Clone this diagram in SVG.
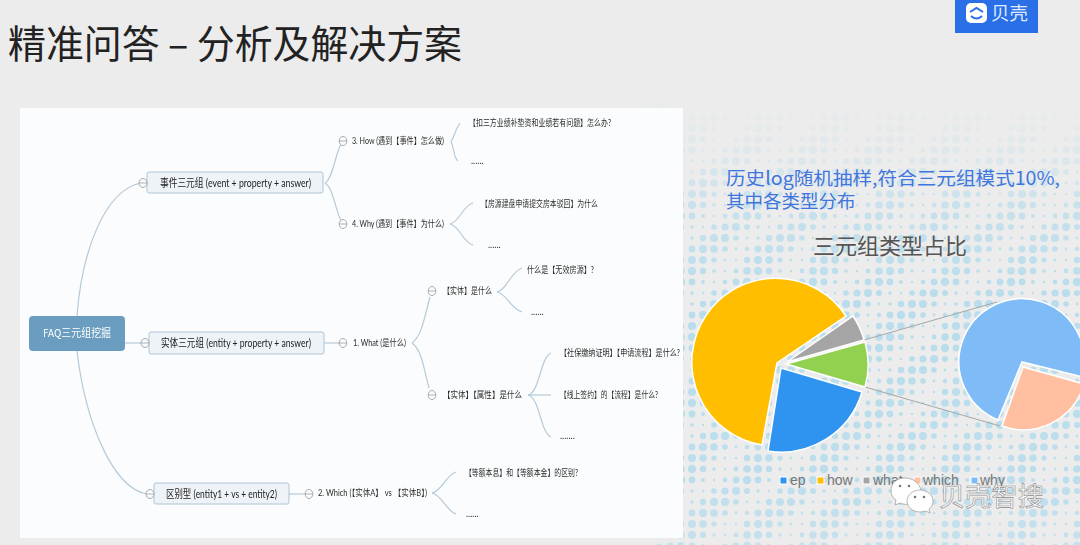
<svg xmlns="http://www.w3.org/2000/svg" width="1080" height="545" viewBox="0 0 1080 545">
<style>
text{font-family:"Noto Sans CJK SC","Noto Sans",sans-serif}
.t{font-family:"Lato","Noto Sans CJK SC",sans-serif;font-size:9px;fill:#2c2c2c}
.n{font-family:"Lato","Noto Sans CJK SC",sans-serif;font-size:11px;fill:#222}
.node{fill:#eef3f8;stroke:#b0c5d6;stroke-width:1}
.c{fill:none;stroke:#b4cad9;stroke-width:1.2}
.m{fill:#fbfcfd;stroke:#a0a0a0;stroke-width:.9}
.mb{stroke:#a0a0a0;stroke-width:.8}
.p{stroke:#fff;stroke-width:1.5}
.lg{font-family:"Liberation Sans",Arial,sans-serif;font-size:14px;fill:#777}
.ls{stroke:#fff;stroke-width:1}
.z{stroke:#a3a8a8;stroke-width:1;fill:none}
</style>
<defs>
<pattern id="dots" width="66" height="66" patternUnits="userSpaceOnUse" x="5" y="2">
<g fill="#b6dcec">
<circle cx="5" cy="5" r="2.4"/><circle cx="16" cy="5" r="3.8"/><circle cx="27" cy="5" r="4.2"/><circle cx="38" cy="5" r="3.2"/><circle cx="49" cy="5" r="1.8"/><circle cx="60" cy="5" r="1.2"/>
<circle cx="5" cy="16" r="3.4"/><circle cx="16" cy="16" r="4.2"/><circle cx="27" cy="16" r="3.4"/><circle cx="38" cy="16" r="2"/><circle cx="49" cy="16" r="1.2"/><circle cx="60" cy="16" r="2.4"/>
<circle cx="5" cy="27" r="4"/><circle cx="16" cy="27" r="3"/><circle cx="27" cy="27" r="1.8"/><circle cx="38" cy="27" r="1.2"/><circle cx="49" cy="27" r="2.8"/><circle cx="60" cy="27" r="3.6"/>
<circle cx="5" cy="38" r="2.8"/><circle cx="16" cy="38" r="1.4"/><circle cx="27" cy="38" r="1.8"/><circle cx="38" cy="38" r="3.2"/><circle cx="49" cy="38" r="4"/><circle cx="60" cy="38" r="4"/>
<circle cx="5" cy="49" r="1.4"/><circle cx="16" cy="49" r="2.2"/><circle cx="27" cy="49" r="3.4"/><circle cx="38" cy="49" r="4.2"/><circle cx="49" cy="49" r="3.8"/><circle cx="60" cy="49" r="2.8"/>
<circle cx="5" cy="60" r="1.2"/><circle cx="16" cy="60" r="3.2"/><circle cx="27" cy="60" r="4"/><circle cx="38" cy="60" r="3.8"/><circle cx="49" cy="60" r="2.6"/><circle cx="60" cy="60" r="1.4"/>
</g>
</pattern>
<linearGradient id="fade" x1="0" y1="100" x2="0" y2="545" gradientUnits="userSpaceOnUse">
<stop offset="0" stop-color="#fff" stop-opacity="0"/>
<stop offset=".1" stop-color="#fff" stop-opacity=".2"/>
<stop offset=".25" stop-color="#fff" stop-opacity=".7"/>
<stop offset=".45" stop-color="#fff" stop-opacity=".95"/>
<stop offset=".85" stop-color="#fff" stop-opacity=".9"/>
<stop offset="1" stop-color="#fff" stop-opacity=".7"/>
</linearGradient>
<mask id="dm" maskUnits="userSpaceOnUse" x="600" y="90" width="480" height="455"><rect x="600" y="90" width="480" height="455" fill="url(#fade)"/></mask>
<filter id="soft" x="-5%" y="-5%" width="110%" height="110%"><feGaussianBlur stdDeviation=".28"/></filter>
</defs>

<rect width="1080" height="545" fill="#ececec"/>
<rect id="dotfield" x="640" y="95" width="440" height="450" fill="url(#dots)" mask="url(#dm)"/>
<rect id="panel" x="20" y="108" width="663" height="430" fill="#fbfcfd"/>

<text id="title" x="8" y="58" font-size="38.5" fill="#222" textLength="454" lengthAdjust="spacingAndGlyphs">精准问答 – 分析及解决方案</text>

<g id="logo">
<rect x="955" y="0" width="83" height="33" fill="#2a6fe8"/>
<rect x="966" y="3" width="21" height="20" rx="5" fill="#fff"/>
<path d="M970 12 L976.500 8 L983 12 M971 16 Q976.500 21 982 16" fill="none" stroke="#2a6fe8" stroke-width="2"/>
<text x="991" y="20" font-size="18.500" fill="#dfe9fb">贝壳</text>
</g>

<g id="connectors" filter="url(#soft)">
<path class="c" d="M77 316C82 250 105 190 141 183"/>
<path class="c" d="M125 343H141"/>
<path class="c" d="M77 351C85 420 112 488 147 494"/>
<path class="c" d="M325 183C333 178 335 155 341 144"/>
<path class="c" d="M325 183C333 188 335 208 341 221"/>
<path class="c" d="M324 343H339"/>
<path class="c" d="M289 494H305"/>
<path class="c" d="M451 142C455 135 455 130 460 123"/>
<path class="c" d="M451 142C455 149 453 157 458 161"/>
<path class="c" d="M450 224C460 222 462 206 473 203"/>
<path class="c" d="M450 224C460 226 462 242 473 245"/>
<path class="c" d="M412 343C422 336 425 315 430 297"/>
<path class="c" d="M412 343C422 350 424 370 429 388"/>
<path class="c" d="M497 292C507 290 511 271 522 268"/>
<path class="c" d="M497 292C507 294 511 309 522 312"/>
<path class="c" d="M528 395C540 392 540 358 551 353"/>
<path class="c" d="M528 395H551"/>
<path class="c" d="M528 395C540 398 540 432 551 437"/>
<path class="c" d="M432 493C442 491 446 475 456 472"/>
<path class="c" d="M432 493C442 495 446 511 456 514"/>
</g>

<g id="mindmap" filter="url(#soft)">
<g id="root"><rect x="29" y="316" width="96" height="35" rx="4" fill="#6b9dbf"/><text x="43" y="337" font-size="11" fill="#fff" font-family="Lato,'Noto Sans CJK SC',sans-serif" textLength="68" lengthAdjust="spacingAndGlyphs">FAQ三元组挖掘</text></g>
<g id="event"><rect class="node" x="147" y="172" width="176" height="21" rx="2"/><text class="n" x="160" y="187" textLength="151" lengthAdjust="spacingAndGlyphs">事件三元组 (event + property + answer)</text><ellipse class="m" cx="143" cy="183" rx="4" ry="4.500"/><path class="mb" d="M139 183H147"/></g>
<g id="entity"><rect class="node" x="149" y="332" width="175" height="22" rx="2"/><text class="n" x="161" y="347" textLength="150" lengthAdjust="spacingAndGlyphs">实体三元组 (entity + property + answer)</text><ellipse class="m" cx="145" cy="343" rx="4" ry="4.500"/><path class="mb" d="M141 343H149"/></g>
<g id="which"><rect class="node" x="154" y="483" width="135" height="21" rx="2"/><text class="n" x="166" y="498" textLength="111" lengthAdjust="spacingAndGlyphs">区别型 (entity1 + vs + entity2)</text><ellipse class="m" cx="150" cy="494" rx="4" ry="4.500"/><path class="mb" d="M146 494H154"/></g>
<g id="how"><ellipse class="m" cx="343" cy="141" rx="3.800" ry="4.500"/><path class="mb" d="M339 141H347"/><text class="t" x="352" y="144" textLength="92" lengthAdjust="spacingAndGlyphs">3. How (遇到【事件】怎么做)</text></g>
<g id="why"><ellipse class="m" cx="343" cy="224" rx="3.800" ry="4.500"/><path class="mb" d="M339 224H347"/><text class="t" x="352" y="227" textLength="92" lengthAdjust="spacingAndGlyphs">4. Why (遇到【事件】为什么)</text></g>
<g id="what"><ellipse class="m" cx="343" cy="343" rx="3.800" ry="4.500"/><path class="mb" d="M339 343H347"/><text class="t" x="353" y="346" textLength="53" lengthAdjust="spacingAndGlyphs">1. What (是什么)</text></g>
<g id="whichq"><ellipse class="m" cx="309" cy="494" rx="3.800" ry="4.500"/><path class="mb" d="M305 494H313"/><text class="t" x="318" y="496" textLength="109" lengthAdjust="spacingAndGlyphs">2. Which (【实体A】 vs 【实体B】)</text></g>
<g id="ent1"><ellipse class="m" cx="432" cy="291" rx="3.800" ry="4.500"/><path class="mb" d="M428 291H436"/><text class="t" x="443" y="294" textLength="49" lengthAdjust="spacingAndGlyphs">【实体】是什么</text></g>
<g id="ent2"><ellipse class="m" cx="432" cy="395" rx="3.800" ry="4.500"/><path class="mb" d="M428 395H436"/><text class="t" x="443" y="398" textLength="79" lengthAdjust="spacingAndGlyphs">【实体】【属性】是什么</text></g>
<g id="leaf1"><text class="t" x="469" y="126" textLength="142" lengthAdjust="spacingAndGlyphs">【扣三方业绩补垫资和业绩若有问题】怎么办?</text></g>
<g id="leaf2"><text class="t" x="471" y="164">......</text></g>
<g id="leaf3"><text class="t" x="481" y="207" textLength="117" lengthAdjust="spacingAndGlyphs">【房源建盘申请提交房本驳回】为什么</text></g>
<g id="leaf4"><text class="t" x="488" y="248">......</text></g>
<g id="leaf5"><text class="t" x="527" y="273" textLength="67" lengthAdjust="spacingAndGlyphs">什么是【无效房源】?</text></g>
<g id="leaf6"><text class="t" x="531" y="315">......</text></g>
<g id="leaf7"><text class="t" x="560" y="356" textLength="120" lengthAdjust="spacingAndGlyphs">【社保缴纳证明】【申请流程】是什么?</text></g>
<g id="leaf8"><text class="t" x="560" y="398" textLength="98" lengthAdjust="spacingAndGlyphs">【线上签约】的【流程】是什么?</text></g>
<g id="leaf9"><text class="t" x="560" y="439">.......</text></g>
<g id="leaf10"><text class="t" x="465" y="476" textLength="113" lengthAdjust="spacingAndGlyphs">【等额本息】和【等额本金】的区别?</text></g>
<g id="leaf11"><text class="t" x="466" y="517">......</text></g>
</g>

<text id="note1" x="726" y="185" font-size="18.500" fill="#3f76dd" textLength="334" lengthAdjust="spacingAndGlyphs">历史log随机抽样,符合三元组模式10%,</text>
<text id="note2" x="726" y="207.500" font-size="18.500" fill="#3f76dd">其中各类型分布</text>
<text id="charttitle" x="813" y="254" font-size="22" fill="#555">三元组类型占比</text>

<g id="pie">
<path class="z" d="M864 340L997 302M865 387L1000 426"/>
<path class="p" fill="#ffbf00" d="M777 363L762 445A84 84 0 1 1 846 316Z"/>
<path class="p" fill="#a5a5a5" d="M787 362L853 316A80 80 0 0 1 864 340Z"/>
<path class="p" fill="#92d050" d="M786 364L865 342A82 82 0 0 1 865 387Z"/>
<path class="p" fill="#2f93f0" d="M781 368L862 392A84 84 0 0 1 768 451Z"/>
<path class="p" fill="#7fbcf7" d="M1022 362L998 420A63 63 0 1 1 1083 377Z"/>
<path class="p" fill="#ffbfa0" d="M1023 367L1084 384A63 63 0 0 1 1002 426Z"/>
</g>

<g id="legend">
<rect class="ls" x="780" y="477" width="7" height="7" fill="#2f93f0"/><text class="lg" x="790" y="485">ep</text>
<rect class="ls" x="817" y="477" width="7" height="7" fill="#ffbf00"/><text class="lg" x="827" y="485">how</text>
<rect class="ls" x="863" y="477" width="7" height="7" fill="#a5a5a5"/><text class="lg" x="873" y="485">what</text>
<rect class="ls" x="914" y="477" width="7" height="7" fill="#ffbfa0"/><text class="lg" x="923" y="485">which</text>
<rect class="ls" x="971" y="477" width="7" height="7" fill="#7fbcf7"/><text class="lg" x="980" y="485">why</text>
</g>

<g id="watermark">
<path d="M905 478C896 478 891 484 891 491C891 495 893 498 896 500L895 505L900 503C903 504 906 505 909 504L921 490C919 483 913 478 905 478Z" fill="#fff" stroke="#999" stroke-width=".7"/>
<path d="M920 490C913 490 907 495 907 501C907 507 913 512 920 512C922 512 924 511.500 926 511L930 513L929 509C932 507 933 504 933 501C933 495 927 490 920 490Z" fill="#fff" stroke="#999" stroke-width=".7"/>
<circle cx="900" cy="486" r="1.300" fill="#777"/><circle cx="909" cy="486" r="1.300" fill="#777"/>
<circle cx="915" cy="497" r="1.300" fill="#777"/><circle cx="924" cy="497" r="1.300" fill="#777"/>
<text x="939" y="506" font-size="26" fill="#fff" stroke="#8c8c8c" stroke-width=".6" textLength="105" lengthAdjust="spacingAndGlyphs">贝壳智搜</text>
</g>
</svg>
